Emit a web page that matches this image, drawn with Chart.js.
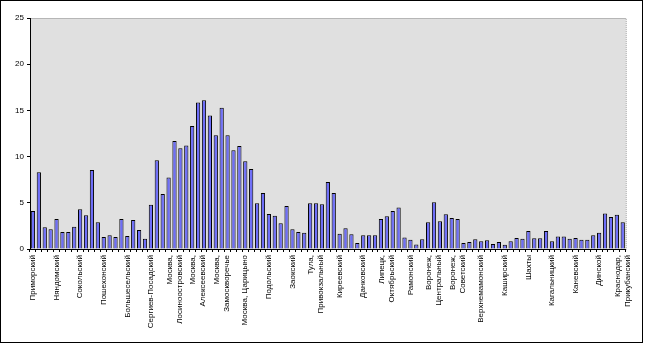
<!DOCTYPE html>
<html>
<head>
<meta charset="utf-8">
<script src="https://cdn.jsdelivr.net/npm/chart.js@4/dist/chart.umd.min.js"></script>
<style>
    body { margin: 0; background: #fff; }
    canvas { display: block; }
</style>
</head>
<body>
<canvas id="districtChart" width="645" height="344"></canvas>
<script>
// district names shown under every 4th bar
const districtLabels = [
    'Приморский', 'Няндомский', 'Сокольский', 'Пошехонский', 'Большесельский',
    'Сергиев-Посадский', ['Москва,', 'Лосиноостровский'], ['Москва,', 'Алексеевский'],
    ['Москва,', 'Замоскворечье'], 'Москва, Царицыно', 'Подольский', 'Заокский',
    ['Тула,', 'Привокзальный'], 'Киреевский', 'Данковский', ['Липецк,', 'Октябрьский'],
    'Рамонский', ['Воронеж,', 'Центральный'], ['Воронеж,', 'Советский'], 'Верхнемамонский',
    'Каширский', 'Шахты', 'Кагальницкий', 'Каневский', 'Динской', ['Краснодар,', 'Прикубанский']
];
const labelStep = 4;

const values = [
    4.1, 8.3, 2.35, 2.15, 3.25, 1.85, 1.85, 2.4, 4.3, 3.65,
    8.55, 2.9, 1.3, 1.5, 1.3, 3.25, 1.4, 3.15, 2.05, 1.1,
    4.8, 9.6, 5.95, 7.75, 11.7, 10.9, 11.2, 13.3, 15.85, 16.1,
    14.45, 12.3, 15.3, 12.3, 10.7, 11.15, 9.5, 8.65, 4.95, 6.05,
    3.8, 3.6, 2.8, 4.65, 2.15, 1.85, 1.75, 4.95, 4.95, 4.85,
    7.25, 6.05, 1.65, 2.25, 1.6, 0.65, 1.5, 1.5, 1.5, 3.25,
    3.55, 4.1, 4.5, 1.25, 1.0, 0.5, 1.05, 2.9, 5.05, 3.0,
    3.75, 3.35, 3.25, 0.65, 0.75, 1.05, 0.85, 0.95, 0.55, 0.75,
    0.45, 0.85, 1.2, 1.1, 1.95, 1.15, 1.15, 1.95, 0.85, 1.35,
    1.35, 1.1, 1.2, 1.0, 1.0, 1.5, 1.75, 3.85, 3.45, 3.7,
    2.9
];

const yTicks = [0, 5, 10, 15, 20, 25];

const labels = values.map((v, i) => i % labelStep === 0 ? districtLabels[i / labelStep] : '');

// grey plot area with dotted edge, black frame round the whole chart
const backdrop = {
    id: 'backdrop',
    beforeDraw(chart) {
        const { ctx, chartArea: a } = chart;
        // two-line labels: centre both lines on their tick
        const items = chart.scales.x.getLabelItems();
        if (!items._centred) {
            items.forEach(it => {
                if (Array.isArray(it.label)) {
                    it.options.translation[0] -= it.font.lineHeight * (it.label.length - 1) / 2;
                }
            });
            items._centred = true;
        }
        ctx.save();
        ctx.fillStyle = '#e0e0e0';
        ctx.fillRect(a.left, a.top, a.right - a.left, a.bottom - a.top);
        ctx.strokeStyle = '#8c8c8c';
        ctx.lineWidth = 1;
        ctx.setLineDash([1, 1]);
        ctx.strokeRect(a.left + 0.5, a.top + 0.5, a.right - a.left, a.bottom - a.top);
        ctx.restore();
    },
    afterDraw(chart) {
        const ctx = chart.ctx;
        ctx.save();
        ctx.strokeStyle = '#000';
        ctx.lineWidth = 1;
        ctx.strokeRect(0.5, 0.5, 642, 342);
        ctx.restore();
    }
};

const ctx = document.getElementById('districtChart').getContext('2d');
new Chart(ctx, {
    type: 'bar',
    data: {
        labels: labels,
        datasets: [{
            data: values,
            backgroundColor: '#6e6ef8',
            borderColor: '#000',
            borderWidth: 1,
            borderSkipped: 'bottom',
            categoryPercentage: 1,
            barPercentage: 0.72
        }]
    },
    options: {
        responsive: false,
        animation: false,
        layout: { padding: { top: 18, right: 13, left: 0, bottom: 0 } },
        plugins: {
            legend: { display: false },
            tooltip: { enabled: false }
        },
        scales: {
            x: {
                afterFit(scale) { scale.height = 95; },
                border: { color: '#000', width: 1 },
                grid: {
                    offset: true,
                    drawOnChartArea: false,
                    drawTicks: true,
                    tickLength: 3,
                    color: '#000'
                },
                ticks: {
                    autoSkip: false,
                    maxRotation: 90,
                    minRotation: 90,
                    padding: 3,
                    color: '#000',
                    font: { family: 'Liberation Sans', size: 8 }
                }
            },
            y: {
                min: 0,
                max: 25,
                afterFit(scale) { scale.width = 30; },
                afterBuildTicks(scale) { scale.ticks = yTicks.map(v => ({ value: v })); },
                border: { color: '#000', width: 1 },
                grid: {
                    drawOnChartArea: false,
                    drawTicks: true,
                    tickLength: 3,
                    color: '#000'
                },
                ticks: {
                    padding: 3,
                    color: '#000',
                    font: { family: 'Liberation Sans', size: 8 }
                }
            }
        }
    },
    plugins: [backdrop]
});
</script>
</body>
</html>
